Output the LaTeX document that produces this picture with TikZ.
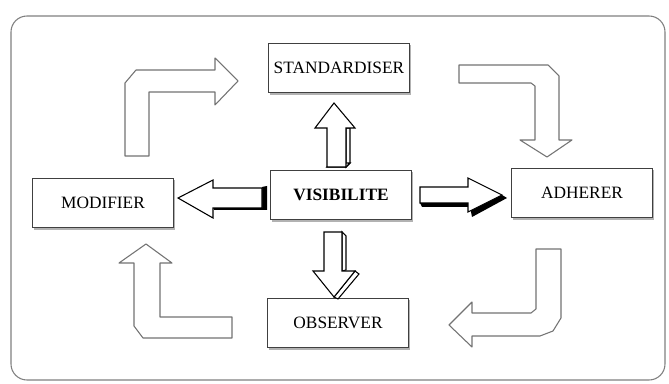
\documentclass[tikz,border=0pt]{standalone}
\usepackage{fontspec}
\setmainfont{Liberation Serif}
\usepackage{tikz}
\usetikzlibrary{
  positioning,
  shadows
}

\tikzset{
  etape/.style={draw=black!75, fill=white, thick, minimum width=106pt, minimum height=37pt,
    font=\fontsize{13}{15}\selectfont,
    drop shadow={shadow xshift=1pt, shadow yshift=-1.4pt, fill=black!30, opacity=1}},
  fleche/.style={draw=black, fill=white, thick, line join=miter},
  coude/.style={draw=black!55, fill=white, thick, line join=round}
}

\begin{document}
\begin{tikzpicture}[x=0.75pt, y=-0.75pt]
  \useasboundingbox[fill=white] (0,0) rectangle (669,384);
  % cadre
  \draw[black!50, thick, rounded corners=12pt] (11,16) rectangle (665,380);

  % etapes
  \node[etape] (std) at (339,68) {STANDARDISER};
  \node[etape, font=\fontsize{13}{15}\selectfont\bfseries] (vis) at (341,195) {VISIBILITE};
  \node[etape] (mod) at (103,203) {MODIFIER};
  \node[etape] (adh) at (582,193) {ADHERER};
  \node[etape] (obs) at (338,323) {OBSERVER};

  % fleches coudees (cycle)
  \draw[coude] (125,156) -- (125,83) -- (136,70) -- (215,70) -- (215,58) -- (238,81)
    -- (215,105) -- (215,92) -- (149,92) -- (149,156) -- cycle;
  \draw[coude] (459,65) -- (548,65) -- (559,76) -- (559,140) -- (572,140) -- (547,157)
    -- (520,140) -- (535,140) -- (535,86) -- (531,83) -- (459,83) -- cycle;
  \draw[coude] (536,249) -- (561,249) -- (561,318) -- (553,331) -- (540,336) -- (472,336)
    -- (472,347) -- (449,325) -- (472,302) -- (472,313) -- (531,313) -- (536,309) -- cycle;
  \draw[coude] (232,317) -- (160,317) -- (160,263) -- (172,263) -- (146,244) -- (119,263)
    -- (134,263) -- (134,326) -- (143,338) -- (232,338) -- cycle;

  % vers le haut
  \draw[fleche] (346,167) -- (350,163) -- (350,128) -- (346,128) -- cycle;
  \draw[fleche] (327,167) -- (331,163) -- (350,163) -- (346,167) -- cycle;
  \draw[fleche] (327,167) -- (327,128) -- (315,128) -- (334,103) -- (355,128)
    -- (346,128) -- (346,167) -- cycle;

  % vers le bas
  \draw[fleche] (342,232) -- (346,236) -- (346,270) -- (342,271) -- cycle;
  \draw[fleche] (355,271) -- (359,274) -- (338,299) -- (334,297) -- cycle;
  \draw[fleche] (324,232) -- (342,232) -- (342,271) -- (355,271) -- (334,297)
    -- (313,271) -- (324,271) -- cycle;

  % vers la gauche
  \fill[black] (262,187) -- (267,186) -- (267,210) -- (214,210) -- (214,208) -- (262,208) -- cycle;
  \draw[fleche] (262,188) -- (213,188) -- (213,180) -- (178,198) -- (213,218)
    -- (213,208) -- (262,208) -- cycle;

  % vers la droite
  \fill[black] (420,203) -- (468,203) -- (468,212) -- (502,195) -- (507,198) -- (472,217)
    -- (470,207) -- (422,207) -- cycle;
  \draw[fleche] (420,187) -- (468,187) -- (468,178) -- (502,195) -- (468,212)
    -- (468,203) -- (420,203) -- cycle;
\end{tikzpicture}
\end{document}
